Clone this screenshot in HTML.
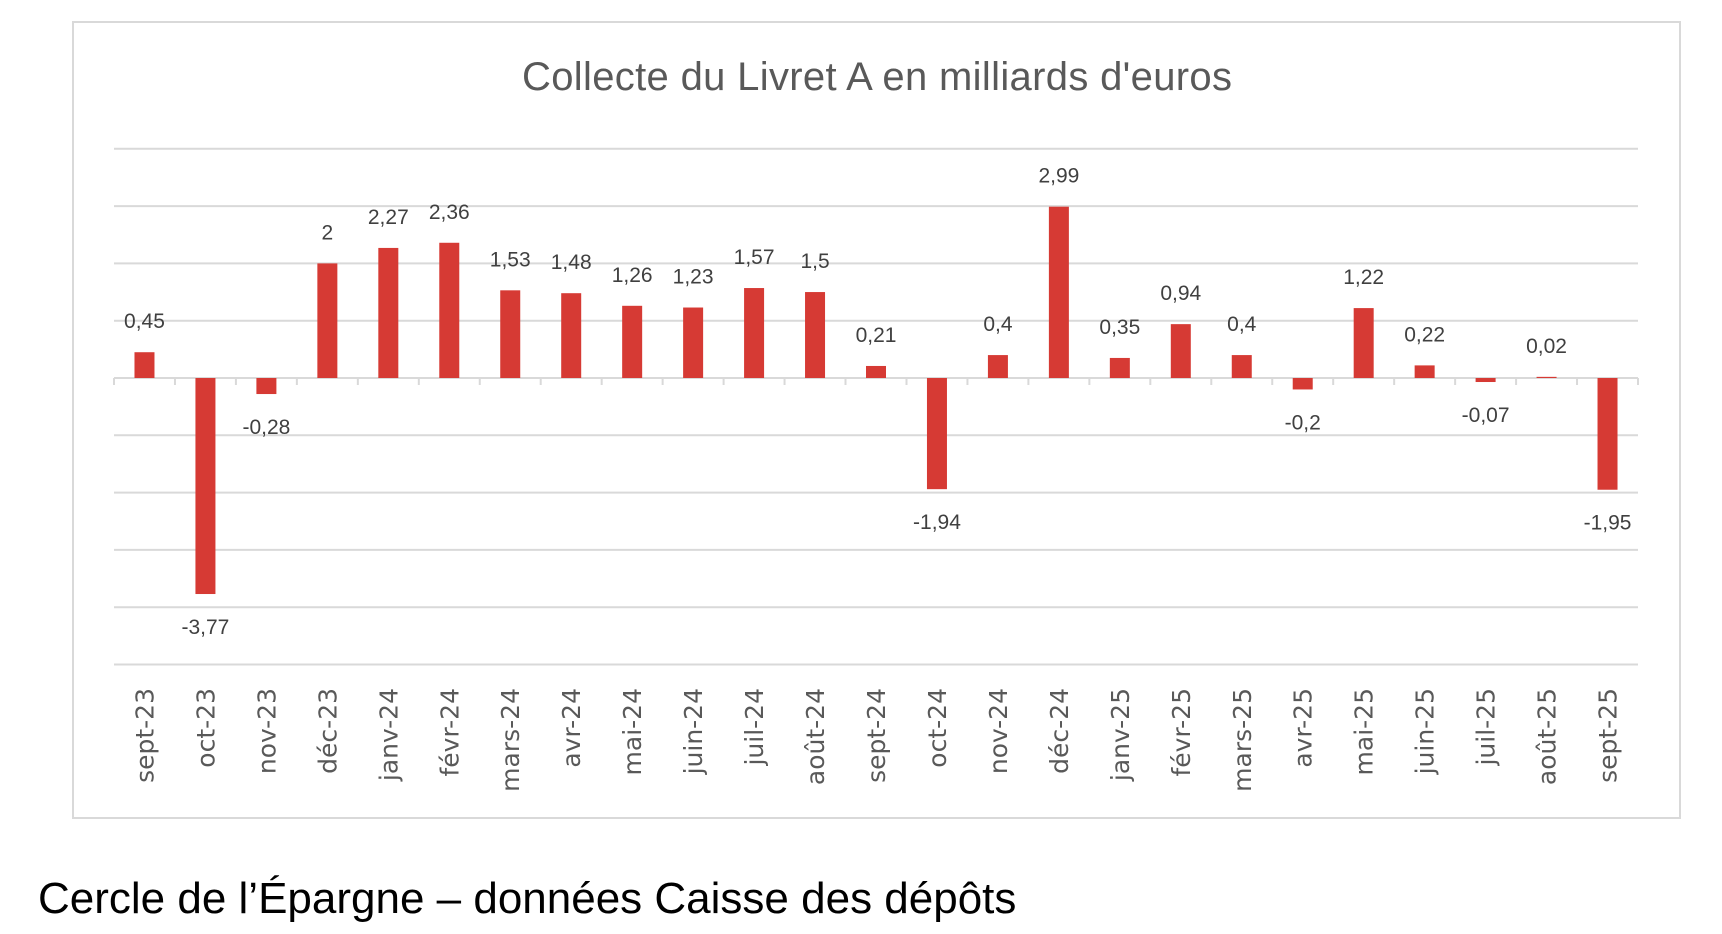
<!DOCTYPE html>
<html><head><meta charset="utf-8"><style>
body{margin:0;background:#fff;width:1722px;height:934px;overflow:hidden}
svg{display:block}
</style></head><body>
<svg id="c" width="1722" height="934">
<rect x="73" y="22" width="1607" height="796" fill="#fff" stroke="#d9d9d9" stroke-width="2"/>
<text x="877" y="90" text-anchor="middle" font-family="Liberation Sans, sans-serif" font-size="40" fill="#595959" textLength="710">Collecte du Livret A en milliards d'euros</text>
<g id="grid"></g><g id="bars"></g><g id="labels"></g><g id="xl"></g>
<text x="38" y="913" font-family="Liberation Sans, sans-serif" font-size="44" fill="#000">Cercle de l’Épargne – données Caisse des dépôts</text>
</svg>
<script>
const categories=["sept-23","oct-23","nov-23","déc-23","janv-24","févr-24","mars-24","avr-24","mai-24","juin-24","juil-24","août-24","sept-24","oct-24","nov-24","déc-24","janv-25","févr-25","mars-25","avr-25","mai-25","juin-25","juil-25","août-25","sept-25"];
const values=[0.45,-3.77,-0.28,2,2.27,2.36,1.53,1.48,1.26,1.23,1.57,1.5,0.21,-1.94,0.4,2.99,0.35,0.94,0.4,-0.2,1.22,0.22,-0.07,0.02,-1.95];
const gridValues=[4,3,2,1,0,-1,-2,-3,-4,-5];
const NS="http://www.w3.org/2000/svg";
const L=114,R=1638,Y0=378,U=57.3;
const y=v=>Y0-v*U;
const step=(R-L)/categories.length;
const x=i=>L+step*(i+0.5);
function mk(t,a,p){const e=document.createElementNS(NS,t);for(const k in a)e.setAttribute(k,a[k]);document.getElementById(p).appendChild(e);return e;}
gridValues.forEach(g=>{
 const e=mk('line',{x1:L,x2:R,y1:y(g),y2:y(g),stroke:'#d9d9d9','stroke-width':2},'grid');
 
 
});
for(let i=0;i<=categories.length;i++){
 const e=mk('line',{x1:L+step*i,x2:L+step*i,y1:Y0,y2:Y0+7,stroke:'#d9d9d9','stroke-width':2},'grid');
 
 
}
values.forEach((v,i)=>{
 const b=mk('rect',{x:x(i)-10,width:20,y:Math.min(y(v),Y0),height:Math.abs(y(v)-Y0),fill:'#d63a34'},'bars');
 
 
 const ly=v>=0?y(v)-24:y(v)+40;
 const t=mk('text',{x:x(i),y:ly,'text-anchor':'middle','font-family':'Liberation Sans, sans-serif','font-size':21,fill:'#404040'},'labels');
 t.textContent=String(v).replace('.',',');
 
 
 const c=mk('text',{transform:`translate(${x(i)+9},688) rotate(-90)`,'text-anchor':'end','font-family':'DejaVu Sans, sans-serif','font-size':25,fill:'#595959'},'xl');
 c.textContent=categories[i];
 
 
});
</script>
</body></html>
